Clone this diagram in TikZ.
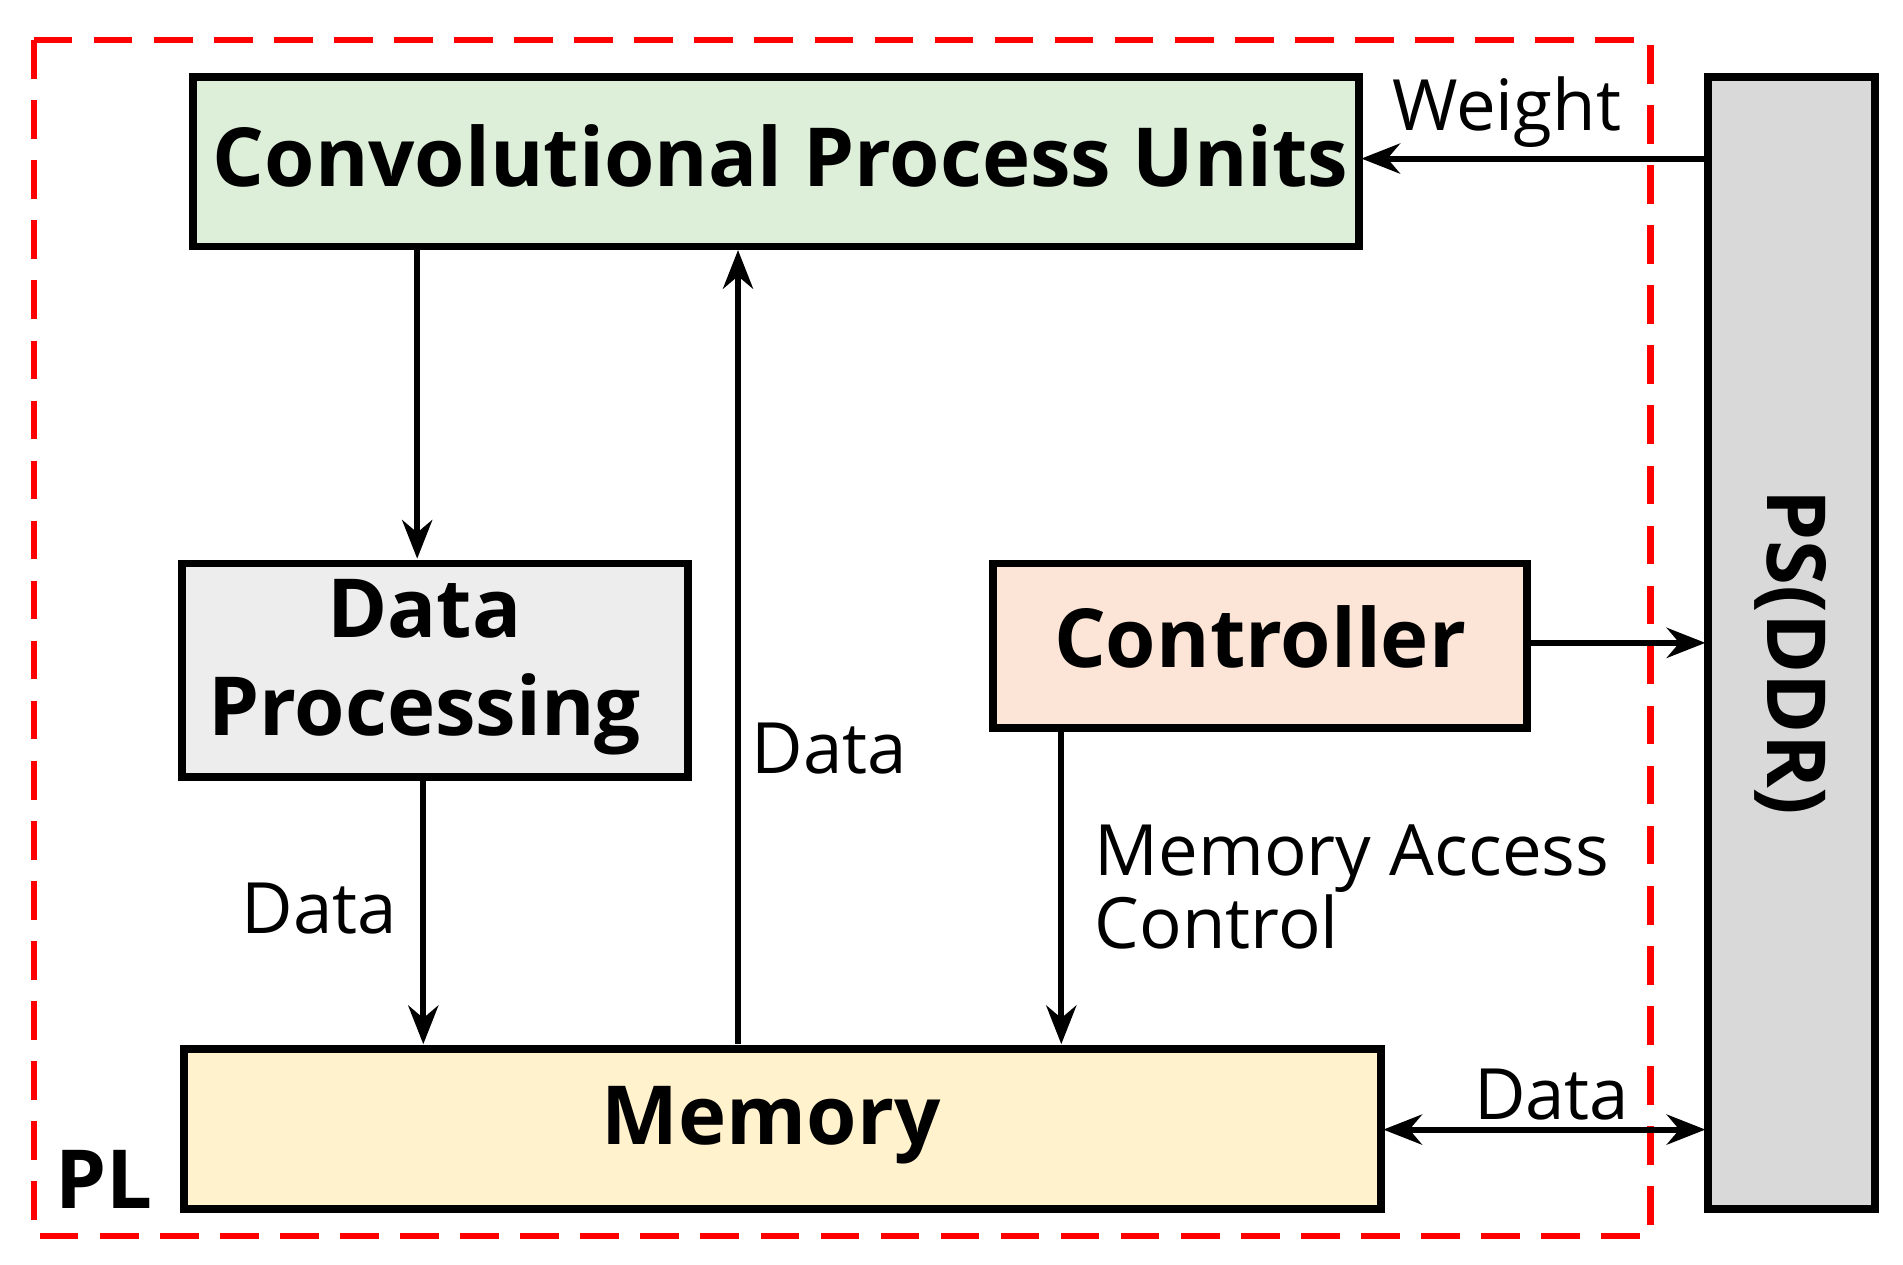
\documentclass[tikz,border=0pt]{standalone}
\usepackage{fontspec}
\setmainfont{Open Sans}[BoldFont={Open Sans Bold}]
\usetikzlibrary{arrows.meta}
\begin{document}
\begin{tikzpicture}[x=0.01cm,y=-0.01cm,
 box/.style={draw=black,line width=1.8pt},
 big/.style={font=\fontsize{19}{23}\selectfont\bfseries},
 lab/.style={font=\fontsize{16.5}{20}\selectfont},
 arr/.style={line width=1.4pt,-{Stealth[length=9pt,width=7pt]}},
 barr/.style={line width=1.4pt,{Stealth[length=9pt,width=7pt]}-{Stealth[length=9pt,width=7pt]}}]
\useasboundingbox (0,0) rectangle (1560,1037);
\fill[white] (0,0) rectangle (1560,1037);
\draw[red,line width=1.5pt,dash pattern=on 9pt off 5pt] (28,33) rectangle (1353,1013);
\draw[box,fill={rgb,255:red,221;green,239;blue,217}] (158,63) rectangle (1114,202);
\node[big] (cpu) at (640,128) {Convolutional Process Units};
\draw[box,fill={rgb,255:red,237;green,237;blue,237}] (149,462) rectangle (564,637);
\node[big,align=center] (dp) at (348,547) {Data\\[0pt]Processing};
\draw[box,fill={rgb,255:red,252;green,228;blue,214}] (814,462) rectangle (1252,597);
\node[big] (ctl) at (1033,522) {Controller};
\draw[box,fill={rgb,255:red,255;green,242;blue,204}] (151,860) rectangle (1132,991);
\node[big] (mem) at (632,922) {Memory};
\draw[box,fill={rgb,255:red,217;green,217;blue,217}] (1400,63) rectangle (1537,991);
\node[big,rotate=-90] (ps) at (1468,535) {PS(DDR)};
\node[big] (pl) at (85,967) {PL};
\coordinate (a1) at (342,202); \coordinate (a2) at (342,458);
\coordinate (b1) at (347,637); \coordinate (b2) at (347,856);
\coordinate (c1) at (605,856); \coordinate (c2) at (605,205);
\coordinate (d1) at (870,597); \coordinate (d2) at (870,856);
\coordinate (e1) at (1252,527); \coordinate (e2) at (1398,527);
\coordinate (f1) at (1400,130); \coordinate (f2) at (1116,130);
\coordinate (g1) at (1134,926); \coordinate (g2) at (1398,926);
\draw[arr] (a1) -- (a2);
\draw[arr] (b1) -- (b2);
\draw[arr] (c1) -- (c2);
\draw[arr] (d1) -- (d2);
\draw[arr] (e1) -- (e2);
\draw[arr] (f1) -- (f2);
\draw[barr] (g1) -- (g2);
\node[lab] (w) at (1235,92) {Weight};
\node[lab] (l1) at (680,614) {Data};
\node[lab] (l2) at (262,745) {Data};
\node[lab] (l3) at (1272,897) {Data};
\node[lab,anchor=west,align=left] (l4) at (885,727) {Memory Access\\[-3pt]Control};
\end{tikzpicture}
\end{document}
